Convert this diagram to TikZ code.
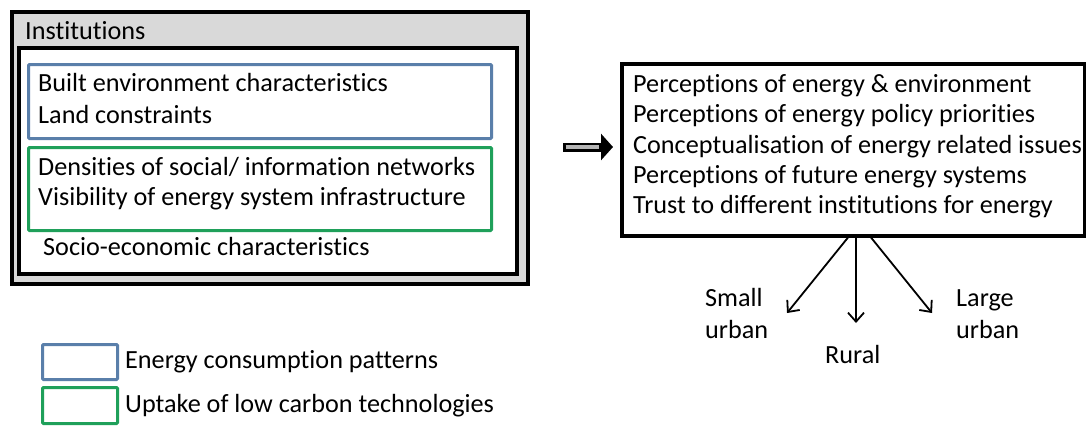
\documentclass[tikz,border=0pt]{standalone}
\usepackage{fontspec}
\setmainfont[Ligatures={NoCommon}]{Carlito}
\usetikzlibrary{positioning,arrows.meta}

\definecolor{consblue}{HTML}{5A7FAA}
\definecolor{lowgreen}{HTML}{1FA05A}
\definecolor{instgray}{HTML}{D9D9D9}

\tikzset{
  frame/.style={draw, line width=3.5pt, anchor=north west, inner sep=0pt},
  colbox/.style={draw, line width=3pt, anchor=north west, inner sep=0pt, rounded corners=1pt},
  txt/.style={anchor=base west, inner sep=0pt, font=\fontsize{26.2}{31}\selectfont},
  branch/.style={->, line width=1.8pt, >={Straight Barb[length=9pt,width=16pt]}}
}

\begin{document}
\begin{tikzpicture}[x=1pt,y=-1pt]
        \useasboundingbox (0,0) rectangle (1086,426);
        % left block
        \node[frame, fill=instgray, minimum width=516, minimum height=272] (inst) at (10,10) {};
        \node[frame, fill=white, minimum width=498, minimum height=226] (inner) at (17,46) {};
        \node[colbox, draw=consblue, minimum width=463, minimum height=74] (blue) at (27,63) {};
        \node[colbox, draw=lowgreen, minimum width=463, minimum height=83] (green) at (27,146) {};
        \node[txt] (title) at (25,39) {Institutions};
        \node[txt] (built) at (38,91) {Built environment characteristics};
        \node[txt] (land) at (38,123) {Land constraints};
        \node[txt] (dens) at (38,175) {Densities of social/ information networks};
        \node[txt] (visib) at (38,205) {Visibility of energy system infrastructure};
        \node[txt] (socio) at (43,255) {Socio-economic characteristics};
        % right block
        \node[frame, minimum width=463, minimum height=172] (percep) at (620,62) {};
        \node[txt] (p1) at (633,92) {Perceptions of energy \& environment};
        \node[txt] (p2) at (633,122) {Perceptions of energy policy priorities};
        \node[txt] (p3) at (633,153) {Conceptualisation of energy related issues};
        \node[txt] (p4) at (633,183) {Perceptions of future energy systems};
        \node[txt] (p5) at (633,213) {Trust to different institutions for energy};
        % big arrow
        \coordinate (from) at (563,147);
        \coordinate (to) at (613,147);
        \draw[line width=9pt, -{Triangle[length=12pt,width=26pt]}] (from) -- (to);
        \draw[line width=3.5pt, instgray!60!gray, shorten <=2.5pt, shorten >=14pt] (from) -- (to);
        % branches
        \node[txt] (small) at (705,306) {Small};
        \node[txt] (surban) at (705,338) {urban};
        \node[txt] (rural) at (825,363) {Rural};
        \node[txt] (large) at (956,306) {Large};
        \node[txt] (lurban) at (956,338) {urban};
        \draw[branch] (percep.south -| 848,0) -- (787,313);
        \draw[branch] (percep.south -| 856,0) -- (856,323);
        \draw[branch] (percep.south -| 871,0) -- (932,313);
        % legend
        \node[colbox, draw=consblue, minimum width=75, minimum height=35] (legblue) at (41,343) {};
        \node[colbox, draw=lowgreen, minimum width=75, minimum height=36] (leggreen) at (41,386) {};
        \node[txt, right=6pt of legblue.east, anchor=west] (legcons) {Energy consumption patterns};
        \node[txt, right=6pt of leggreen.east, anchor=west] (leglow) {Uptake of low carbon technologies};
\end{tikzpicture}
\end{document}
